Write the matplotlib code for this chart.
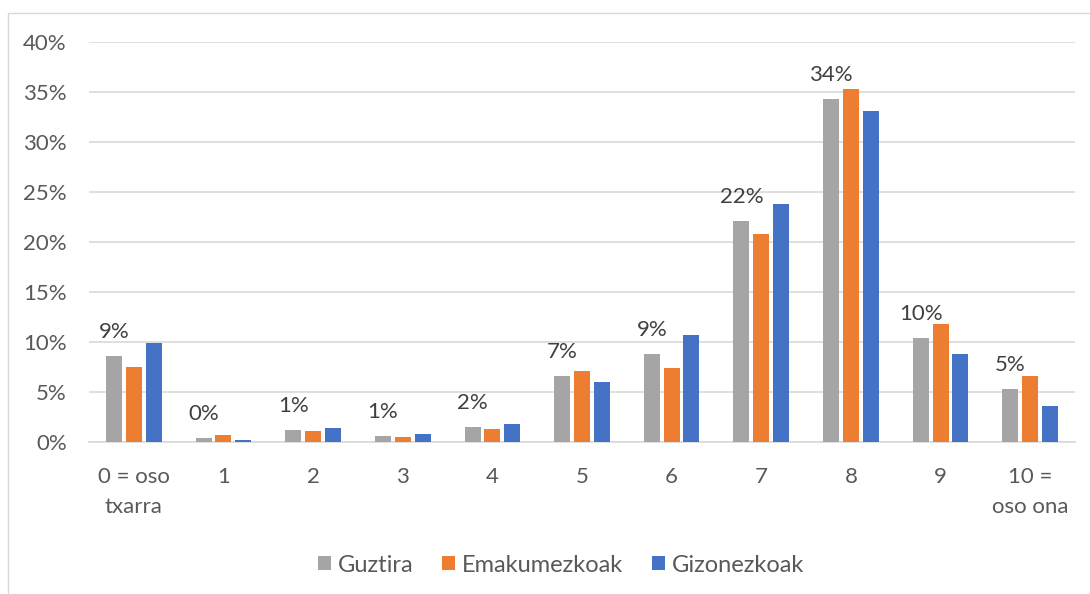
import matplotlib.pyplot as plt
import numpy as np
from matplotlib.patches import Rectangle

plt.rcParams['font.family'] = ['Lato', 'DejaVu Sans']

kategoriak = ['0 = oso\ntxarra', '1', '2', '3', '4', '5', '6', '7', '8', '9', '10 =\noso ona']
guztira = [8.6, 0.45, 1.25, 0.65, 1.55, 6.65, 8.85, 22.1, 34.3, 10.4, 5.3]
emakumezkoak = [7.5, 0.7, 1.1, 0.5, 1.3, 7.15, 7.4, 20.8, 35.3, 11.8, 6.6]
gizonezkoak = [9.95, 0.25, 1.45, 0.8, 1.8, 6.0, 10.7, 23.8, 33.1, 8.8, 3.65]
ytikak = [0, 5, 10, 15, 20, 25, 30, 35, 40]

fig = plt.figure(figsize=(10.9, 5.94), dpi=100)
ax = fig.add_axes([89 / 1090, 1 - 442 / 594, (1075 - 89) / 1090, 400 / 594])

# kanpoko markoa
fig.patches.append(Rectangle((8 / 1090, -0.1), 1.2, 1 - 13 / 594 + 0.1, transform=fig.transFigure,
                             fill=False, edgecolor='#d9d9d9', linewidth=1))

x = np.arange(len(kategoriak))
w = 0.179
d = 0.221
ax.bar(x - d, np.array(guztira) / 100, w, color='#a5a5a5', label='Guztira', zorder=3)
ax.bar(x, np.array(emakumezkoak) / 100, w, color='#ed7d31', label='Emakumezkoak', zorder=3)
ax.bar(x + d, np.array(gizonezkoak) / 100, w, color='#4472c4', label='Gizonezkoak', zorder=3)

for xi, v in zip(x, guztira):
    ax.annotate(f'{v:.0f}%', (xi - d, v / 100), xytext=(0, 10), textcoords='offset points',
                ha='center', va='bottom', fontsize=16, color='#404040')

ax.set_xlim(-0.5, len(kategoriak) - 0.5)
ax.set_ylim(0, 0.4)
ax.set_yticks([t / 100 for t in ytikak])
ax.set_yticklabels([f'{t}%' for t in ytikak])
ax.set_xticks(x)
ax.set_xticklabels(kategoriak, linespacing=1.6)
ax.tick_params(axis='both', length=0, labelsize=16, labelcolor='#595959')
ax.tick_params(axis='y', pad=16)
ax.tick_params(axis='x', pad=18)
for lab in ax.get_xticklabels():
    lab.set_verticalalignment('top')

ax.grid(axis='y', color='#d9d9d9', linewidth=1.2, zorder=0)
for s in ['top', 'right', 'left']:
    ax.spines[s].set_visible(False)
ax.spines['bottom'].set_color('#d9d9d9')
ax.spines['bottom'].set_linewidth(1.2)

leg = fig.legend(loc='center', bbox_to_anchor=(561 / 1090, 1 - 565 / 594), ncol=3, frameon=False,
                 fontsize=17, handlelength=0.55, handleheight=0.55, handletextpad=0.3, columnspacing=1.2)
for t in leg.get_texts():
    t.set_color('#595959')

fig.savefig('out.png', dpi=100)
